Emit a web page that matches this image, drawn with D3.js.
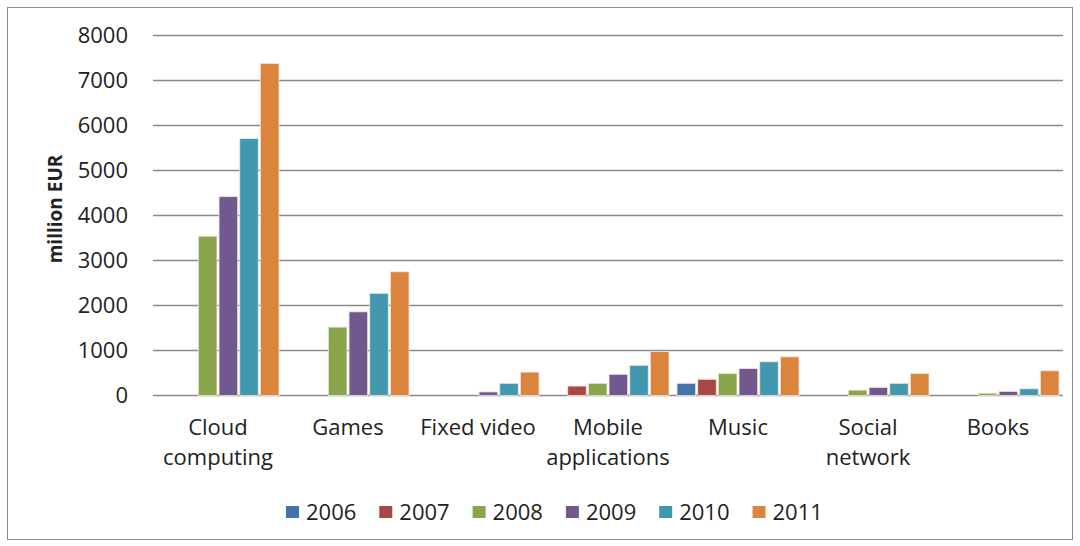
<!DOCTYPE html>
<html><head><meta charset="utf-8">
<script src="https://cdn.jsdelivr.net/npm/d3@7"></script>
<style>
html,body{margin:0;padding:0;background:#fff;}
svg{display:block;}
text{font-family:"Open Sans",Lato,sans-serif;fill:#222;}
</style></head>
<body>
<svg id="chart" width="1080" height="546"></svg>
<script>
const categories = [["Cloud","computing"],["Games"],["Fixed video"],["Mobile","applications"],["Music"],["Social","network"],["Books"]];
const years = ["2006","2007","2008","2009","2010","2011"];
const v2006 = [0, 0, 0, 0, 270, 0, 0];
const v2007 = [0, 0, 0, 210, 360, 0, 0];
const v2008 = [3540, 1520, 0, 270, 490, 120, 50];
const v2009 = [4420, 1860, 80, 470, 600, 180, 90];
const v2010 = [5710, 2270, 270, 670, 750, 270, 150];
const v2011 = [7380, 2750, 520, 980, 860, 490, 550];
const series = [v2006, v2007, v2008, v2009, v2010, v2011];
const colors = ["#4672aa", "#aa4643", "#89a54e", "#71588f", "#4198af", "#db843d"];
const yTicks = [0,1000,2000,3000,4000,5000,6000,7000,8000];

(function(){
const svg = d3.select("#chart");
svg.append("rect").attr("x",7.5).attr("y",7.5).attr("width",1065).attr("height",532)
  .attr("fill","#fff").attr("stroke","#8c8c8c").attr("stroke-width",1);

const pLeft = 153, pRight = 1063, pTop = 35.5, pBottom = 395.5;
const x0 = d3.scaleBand().domain(d3.range(categories.length)).range([pLeft, pRight]).paddingInner(0).paddingOuter(0);
const x1 = d3.scaleBand().domain(d3.range(years.length)).range([4, x0.bandwidth()-4]).paddingInner(0.1);
const y = d3.scaleLinear().domain([0,8000]).range([pBottom, pTop]);

svg.append("g").selectAll("line").data(yTicks).join("line")
  .attr("x1",pLeft).attr("x2",pRight)
  .attr("y1",d=>y(d)).attr("y2",d=>y(d))
  .attr("stroke","#8a8a8a").attr("stroke-width",1.5);

svg.append("g").selectAll("text").data(yTicks).join("text")
  .attr("x",128).attr("y",d=>y(d)).attr("dy","0.36em")
  .attr("text-anchor","end").attr("font-size",22).text(d=>d);

svg.append("text").attr("transform","translate(55,209) rotate(-90)")
  .attr("text-anchor","middle").attr("dy","0.36em")
  .attr("font-size",19).attr("font-weight","bold").attr("fill","#000").text("million EUR");

const g = svg.append("g");
series.forEach((vals, si) => {
  g.append("g").selectAll("rect").data(vals).join("rect")
    .attr("x",(d,i)=>x0(i)+x1(si))
    .attr("width",x1.bandwidth())
    .attr("y",d=>y(d))
    .attr("height",d=>y(0)-y(d))
    .attr("fill",colors[si])
    .attr("stroke",d=>d>0?"#f4e8e0":"none").attr("stroke-width",1)
    .attr("stroke-opacity",0.8);
});

const cl = svg.append("g");
categories.forEach((lines,i)=>{
  const cx = x0(i)+x0.bandwidth()/2;
  const t = cl.append("text").attr("text-anchor","middle").attr("font-size",22);
  lines.forEach((ln,j)=>{
    t.append("tspan").attr("x",cx).attr("y",435+j*30).text(ln);
  });
});

const leg = svg.append("g");
years.forEach((yr,i)=>{
  const lx = 286 + i*93.3;
  leg.append("rect").attr("x",lx).attr("y",506).attr("width",13).attr("height",12).attr("fill",colors[i]);
  leg.append("text").attr("x",lx+20).attr("y",512).attr("dy","0.36em").attr("font-size",22).text(yr);
});
})();
</script>
</body></html>
